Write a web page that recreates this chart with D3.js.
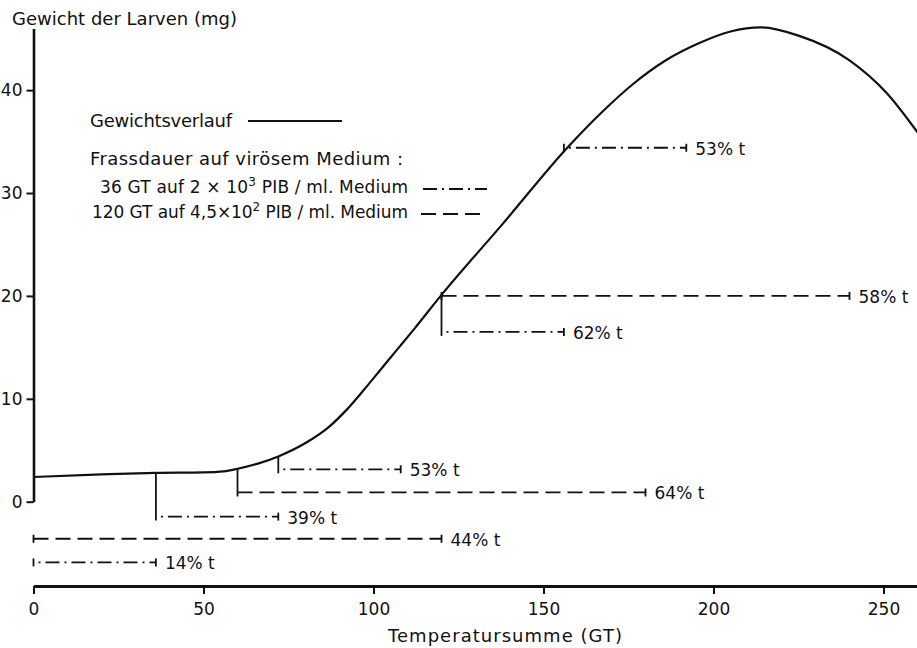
<!DOCTYPE html>
<html lang="de">
<head>
<meta charset="utf-8">
<title>Gewichtsverlauf der Larven</title>
<script src="https://cdn.jsdelivr.net/npm/d3@7"></script>
<style>
  html, body { margin: 0; padding: 0; background: #fff; }
  svg { display: block; }
  text { font-family: "DejaVu Sans", "Liberation Sans", sans-serif; fill: #111; }
</style>
</head>
<body>
<svg id="chart" width="917" height="648"></svg>
<script>
// Weight curve of the larvae over the temperature sum (GT)
const gtKnots   = [0, 20, 36, 50, 56, 60, 66, 72, 80, 87, 92, 97, 102, 107, 112, 120, 138, 157, 167, 176, 186, 196, 205, 214, 225, 240, 251, 260];
const weightMg  = [2.4, 2.65, 2.8, 2.85, 2.95, 3.2, 3.7, 4.4, 5.7, 7.3, 8.9, 10.8, 12.8, 14.8, 16.8, 20.1, 27.0, 34.4, 37.8, 40.5, 42.9, 44.6, 45.7, 46.1, 45.3, 42.9, 39.7, 35.9];

// Feeding periods on viral medium: start (GT), row height (mg), kind, result label
const spanStart    = [156, 120, 120, 72, 60, 36, 0, 0];
const spanRow      = [34.4, 20, 16.5, 3.15, 0.9, -1.45, -3.6, -5.9];
const spanKind     = ["dashdot", "dashed", "dashdot", "dashdot", "dashed", "dashdot", "dashed", "dashdot"];
const spanLabel    = ["53% t", "58% t", "62% t", "53% t", "64% t", "39% t", "44% t", "14% t"];
const spanAnchored = [true, true, true, true, true, true, false, false];
const durationGT   = { dashdot: 36, dashed: 120 };

const xTicks = [0, 50, 100, 150, 200, 250];
const yTicks = [0, 10, 20, 30, 40];

const dashPattern = { dashed: "15,7", dashdot: "14,5,2,5", solid: null };

const svg = d3.select("#chart");
const x = d3.scaleLinear().domain([0, 260]).range([33.5, 917.5]);
const y = d3.scaleLinear().domain([0, 46]).range([501.7, 28.4]);
const axisLevel = -8.2;

// interpolate the weight curve at a given GT
function weightAt(gt) {
  const i = Math.max(1, d3.bisectLeft(gtKnots, gt));
  const x0 = gtKnots[i - 1], x1 = gtKnots[i];
  const t = (gt - x0) / (x1 - x0);
  return weightMg[i - 1] + t * (weightMg[i] - weightMg[i - 1]);
}

// axes
const xAxis = d3.axisBottom(x).tickValues(xTicks).tickSize(8).tickSizeOuter(0).tickPadding(9);
const gx = svg.append("g").attr("transform", `translate(0,${y(axisLevel)})`).call(xAxis);
gx.select(".domain").attr("stroke", "#111").attr("stroke-width", 3);
gx.selectAll(".tick line").attr("stroke", "#111").attr("stroke-width", 2);
gx.selectAll(".tick text").attr("font-size", 17).attr("fill", "#111");

const yAxis = d3.axisLeft(y).tickValues(yTicks).tickSize(7).tickSizeOuter(0).tickPadding(4);
const gy = svg.append("g").attr("transform", `translate(${x(0)},0)`).call(yAxis);
gy.select(".domain").attr("stroke", "#111").attr("stroke-width", 2.6);
gy.selectAll(".tick line").attr("stroke", "#111").attr("stroke-width", 2);
gy.selectAll(".tick text").attr("font-size", 17).attr("fill", "#111");

// axis titles
svg.append("text").attr("x", 12).attr("y", 25).attr("font-size", 18)
  .attr("textLength", 225).attr("lengthAdjust", "spacing")
  .text("Gewicht der Larven (mg)");
svg.append("text").attr("x", 388).attr("y", 642).attr("font-size", 18)
  .attr("textLength", 234).attr("lengthAdjust", "spacing")
  .text("Temperatursumme (GT)");

// weight curve
const line = d3.line().x(d => x(d)).y((d, i) => y(weightMg[i])).curve(d3.curveMonotoneX);
svg.append("path").attr("d", line(gtKnots))
  .attr("fill", "none").attr("stroke", "#111").attr("stroke-width", 2.2);

// feeding spans
const spans = spanStart.map((s, i) => ({
  start: s, end: s + durationGT[spanKind[i]], row: spanRow[i],
  kind: spanKind[i], label: spanLabel[i], anchored: spanAnchored[i]
}));

const gs = svg.append("g").attr("stroke", "#111").attr("stroke-width", 1.8).attr("fill", "none");
spans.forEach(d => {
  const ry = y(d.row);
  gs.append("line").attr("x1", x(d.start)).attr("x2", x(d.end)).attr("y1", ry).attr("y2", ry)
    .attr("stroke-dasharray", dashPattern[d.kind]).attr("stroke-dashoffset", d.kind === "dashdot" ? 14 : 0);
  // end bar
  gs.append("line").attr("x1", x(d.end)).attr("x2", x(d.end)).attr("y1", ry - 4).attr("y2", ry + 4);
  // start bar, dropped from the curve where the span begins on it
  const top = d.anchored ? Math.min(ry - 4, y(weightAt(d.start))) : ry - 4;
  gs.append("line").attr("x1", x(d.start)).attr("x2", x(d.start)).attr("y1", top).attr("y2", ry + 4);
});

svg.append("g").selectAll("text").data(spans).join("text")
  .attr("x", d => x(d.end) + 9).attr("y", d => y(d.row) + 7)
  .attr("font-size", 17).text(d => d.label);

// legend
const lg = svg.append("g");
lg.append("text").attr("x", 90).attr("y", 127).attr("font-size", 18)
  .attr("textLength", 142).attr("lengthAdjust", "spacing").text("Gewichtsverlauf");
lg.append("line").attr("x1", 248).attr("x2", 342).attr("y1", 121).attr("y2", 121)
  .attr("stroke", "#111").attr("stroke-width", 2);
lg.append("text").attr("x", 90).attr("y", 165).attr("font-size", 18)
  .attr("textLength", 313).attr("lengthAdjust", "spacing").text("Frassdauer auf virösem Medium :");

const l36 = lg.append("text").attr("x", 100).attr("y", 193).attr("font-size", 17)
  .attr("textLength", 308).attr("lengthAdjust", "spacing");
l36.append("tspan").text("36 GT auf  2 × 10");
l36.append("tspan").attr("font-size", 12).attr("dy", -7).text("3");
l36.append("tspan").attr("dy", 7).text("  PIB / ml. Medium");
lg.append("line").attr("x1", 423).attr("x2", 487).attr("y1", 189).attr("y2", 189)
  .attr("stroke", "#111").attr("stroke-width", 1.8).attr("stroke-dasharray", dashPattern.dashdot);

const l120 = lg.append("text").attr("x", 92).attr("y", 218).attr("font-size", 17)
  .attr("textLength", 316).attr("lengthAdjust", "spacing");
l120.append("tspan").text("120 GT auf 4,5×10");
l120.append("tspan").attr("font-size", 12).attr("dy", -7).text("2");
l120.append("tspan").attr("dy", 7).text(" PIB / ml. Medium");
lg.append("line").attr("x1", 421).attr("x2", 485).attr("y1", 214).attr("y2", 214)
  .attr("stroke", "#111").attr("stroke-width", 1.8).attr("stroke-dasharray", dashPattern.dashed);
</script>
</body>
</html>
